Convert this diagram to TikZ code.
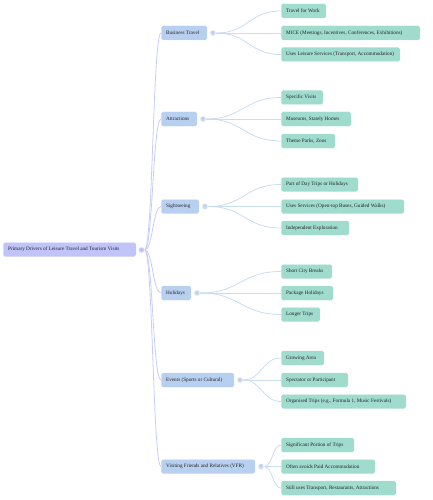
\documentclass[tikz,border=0pt]{standalone}
\usepackage{fontspec}
\setmainfont{Liberation Serif}
\usetikzlibrary{calc,backgrounds}
\definecolor{rootfill}{HTML}{C0C4F8}
\definecolor{lonefill}{HTML}{B8D0F0}
\definecolor{ltwofill}{HTML}{A0DCCE}
\definecolor{rootedge}{HTML}{C8CCF8}
\definecolor{loneedge}{HTML}{CADCF2}
\definecolor{txt}{HTML}{222222}
\newcommand\bx[2]{\makebox[#1][l]{#2}}
\begin{document}
\begin{tikzpicture}[x=1pt,y=-1pt,
  base/.style={anchor=west, rounded corners=1.5pt, minimum height=14.5pt, inner xsep=5pt, inner ysep=0pt,
    text=txt, font=\fontsize{5.2}{6}\selectfont, draw=white, line width=0.3pt},
  rootbox/.style={base, fill=rootfill},
  lonebox/.style={base, fill=lonefill},
  ltwobox/.style={base, fill=ltwofill},
  knob/.style={circle, minimum size=6pt, inner sep=0pt, font=\fontsize{4}{4}\selectfont, text=gray, draw=white, line width=0.3pt},
  rootlink/.style={draw=rootedge, line width=0.8pt},
  lonelink/.style={draw=loneedge, line width=0.8pt}
]
\useasboundingbox (0,0) rectangle (433,500);

% root
\node[rootbox] (r) at (3,249.5) {\bx{123pt}{Primary Drivers of Leisure Travel and Tourism Visits}};
\node[knob, fill=rootedge] (rk) at (141.5,250) {<};

% level 1
\node[lonebox] (a) at (161,33) {\bx{36pt}{Business Travel}};
\node[lonebox] (b) at (161,119) {\bx{26pt}{Attractions}};
\node[lonebox] (c) at (161,206.5) {\bx{28pt}{Sightseeing}};
\node[lonebox] (d) at (161,293) {\bx{20pt}{Holidays}};
\node[lonebox] (e) at (161,380) {\bx{63pt}{Events (Sports or Cultural)}};
\node[lonebox] (f) at (161,466.5) {\bx{84pt}{Visiting Friends and Relatives (VFR)}};

\node[knob, fill=loneedge] (ak) at (213,33) {<};
\node[knob, fill=loneedge] (bk) at (203,119) {<};
\node[knob, fill=loneedge] (ck) at (205,206.5) {<};
\node[knob, fill=loneedge] (dk) at (197,293) {<};
\node[knob, fill=loneedge] (ek) at (240,380) {<};
\node[knob, fill=loneedge] (fk) at (261,466.5) {<};

% level 2
\node[ltwobox] (a1) at (281,11) {\bx{35pt}{Travel for Work}};
\node[ltwobox] (a2) at (281,33) {\bx{129pt}{MICE (Meetings, Incentives, Conferences, Exhibitions)}};
\node[ltwobox] (a3) at (281,54.5) {\bx{109pt}{Uses Leisure Services (Transport, Accommodation)}};

\node[ltwobox] (b1) at (281,97.5) {\bx{32pt}{Specific Visits}};
\node[ltwobox] (b2) at (281,119) {\bx{60pt}{Museums, Stately Homes}};
\node[ltwobox] (b3) at (281,141) {\bx{44pt}{Theme Parks, Zoos}};

\node[ltwobox] (c1) at (281,184.5) {\bx{67pt}{Part of Day Trips or Holidays}};
\node[ltwobox] (c2) at (281,206.5) {\bx{113pt}{Uses Services (Open-top Buses, Guided Walks)}};
\node[ltwobox] (c3) at (281,228) {\bx{58pt}{Independent Exploration}};

\node[ltwobox] (d1) at (281,271.5) {\bx{41pt}{Short City Breaks}};
\node[ltwobox] (d2) at (281,293) {\bx{42pt}{Package Holidays}};
\node[ltwobox] (d3) at (281,314.5) {\bx{29pt}{Longer Trips}};

\node[ltwobox] (e1) at (281,358) {\bx{33pt}{Growing Area}};
\node[ltwobox] (e2) at (281,380) {\bx{57pt}{Spectator or Participant}};
\node[ltwobox] (e3) at (281,401.5) {\bx{115pt}{Organised Trips (e.g., Formula 1, Music Festivals)}};

\node[ltwobox] (f1) at (281,445) {\bx{63pt}{Significant Portion of Trips}};
\node[ltwobox] (f2) at (281,466.5) {\bx{84pt}{Often avoids Paid Accommodation}};
\node[ltwobox] (f3) at (281,488) {\bx{105pt}{Still uses Transport, Restaurants, Attractions}};

% links
\begin{scope}[on background layer]
\foreach \t in {a,b,c,d,e,f}{
  \path[rootlink] (rk.east) .. controls ($(rk.east)!0.5!(\t.west |- rk.east)$) and ($(\t.west)!0.5!(rk.east |- \t.west)$) .. (\t.west);
}
\foreach \p in {a,b,c,d,e,f}{
  \foreach \n in {1,2,3}{
    \path[lonelink] (\p k.east) .. controls ($(\p k.east)!0.5!(\p\n.west |- \p k.east)$) and ($(\p\n.west)!0.5!(\p k.east |- \p\n.west)$) .. (\p\n.west);
  }
}
\end{scope}
\end{tikzpicture}
\end{document}
